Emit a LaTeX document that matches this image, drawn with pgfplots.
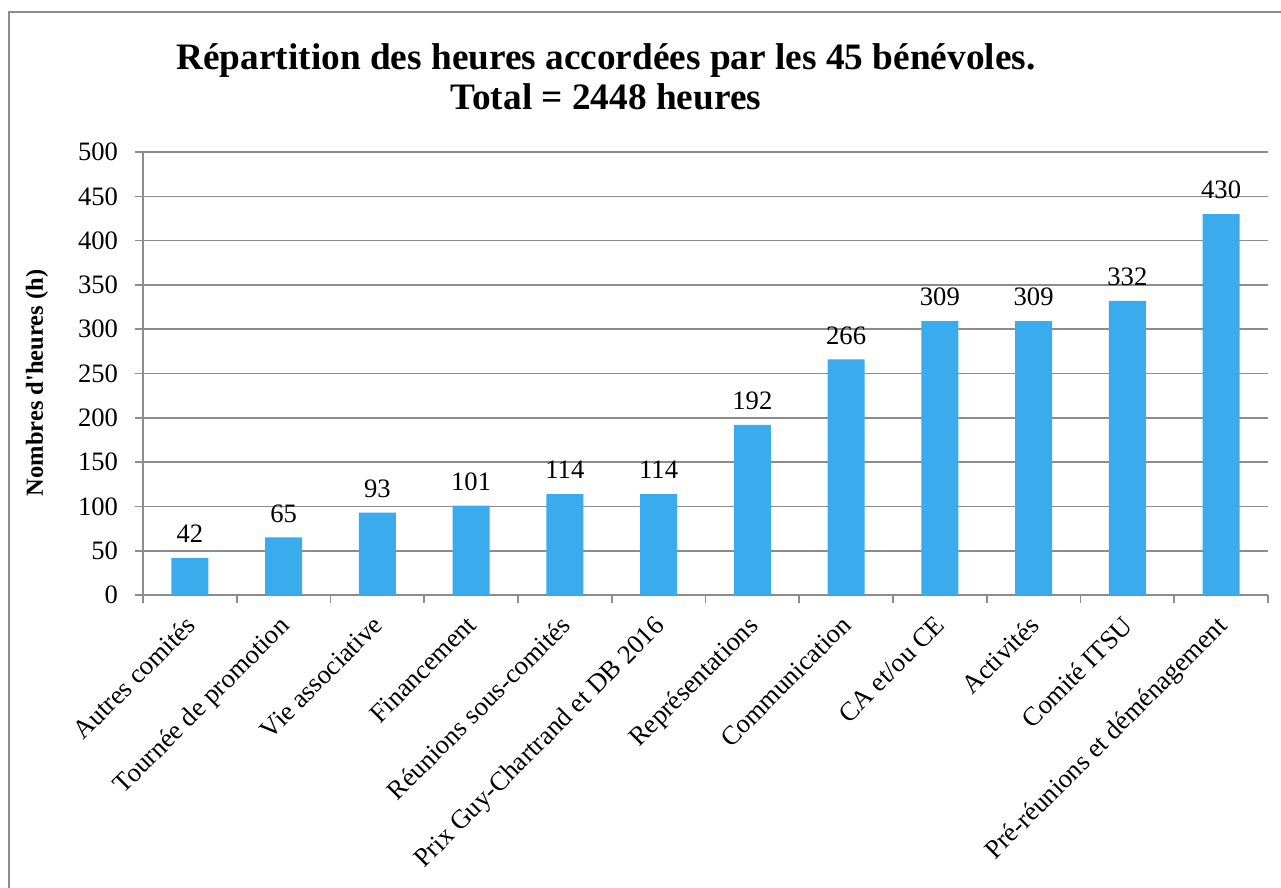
\documentclass[border=0pt]{standalone}
\usepackage{fontspec}
\setmainfont{Liberation Serif}[Ligatures=TeXOff]
\usepackage{pgfplots}
\pgfplotsset{compat=1.18}
\definecolor{barblue}{HTML}{3AABED}
\definecolor{gridgray}{HTML}{8C8C8C}
\begin{document}
\begin{tikzpicture}[x=0.5pt,y=-0.5pt]
\useasboundingbox (0,0) rectangle (1281,888);
\draw[gridgray,line width=1pt] (9,900) -- (9,12) -- (1300,12);
\node[font=\bfseries\fontsize{18.65}{20}\selectfont,align=center,anchor=base] at (606,110) {Répartition des heures accordées par les 45 bénévoles.\\Total = 2448 heures};
\node[font=\bfseries\fontsize{12.25}{14}\selectfont,rotate=90] at (37,383) {Nombres d'heures (h)};
\coordinate (A) at (189.875,595);
\begin{axis}[
  at={(A)}, anchor=origin,
  scale only axis, width=562.5pt, height=221.5pt,
  xmin=-0.5, xmax=11.5, ymin=0, ymax=500,
  ybar, bar width=18.5pt,
  axis x line*=bottom, axis y line*=left,
  axis line style={gridgray, line width=0.8pt, -},
  ymajorgrids, grid style={gridgray, line width=0.8pt},
  ytick={0,50,...,500},
  xtick={0,...,11},
  minor xtick={-0.5,0.5,...,11.5},
  major tick length=4pt, minor tick length=4pt,
  tick align=outside,
  every tick/.style={gridgray, line width=0.8pt},
  major x tick style={draw=none},
  tick label style={font=\fontsize{13.3}{15}\selectfont},
  /pgf/number format/assume math mode=true,
  yticklabel style={xshift=-5pt},
  xticklabels={Autres comités, Tournée de promotion, Vie associative, Financement, Réunions sous-comités, Prix Guy-Chartrand et DB 2016, Représentations, Communication, CA et/ou CE, Activités, Comité ITSU, Pré-réunions et déménagement},
  xticklabel style={xshift=-3pt, yshift=-4pt, rotate=45, anchor=north east, inner sep=1pt},
  nodes near coords,
  every node near coord/.append style={font=\fontsize{13.3}{15}\selectfont, black, yshift=4pt},
  clip=false,
]
\addplot[fill=barblue, draw=none] coordinates {
(0,42) (1,65) (2,93) (3,101) (4,114) (5,114) (6,192) (7,266) (8,309) (9,309) (10,332) (11,430)};
\end{axis}
\end{tikzpicture}
\end{document}
